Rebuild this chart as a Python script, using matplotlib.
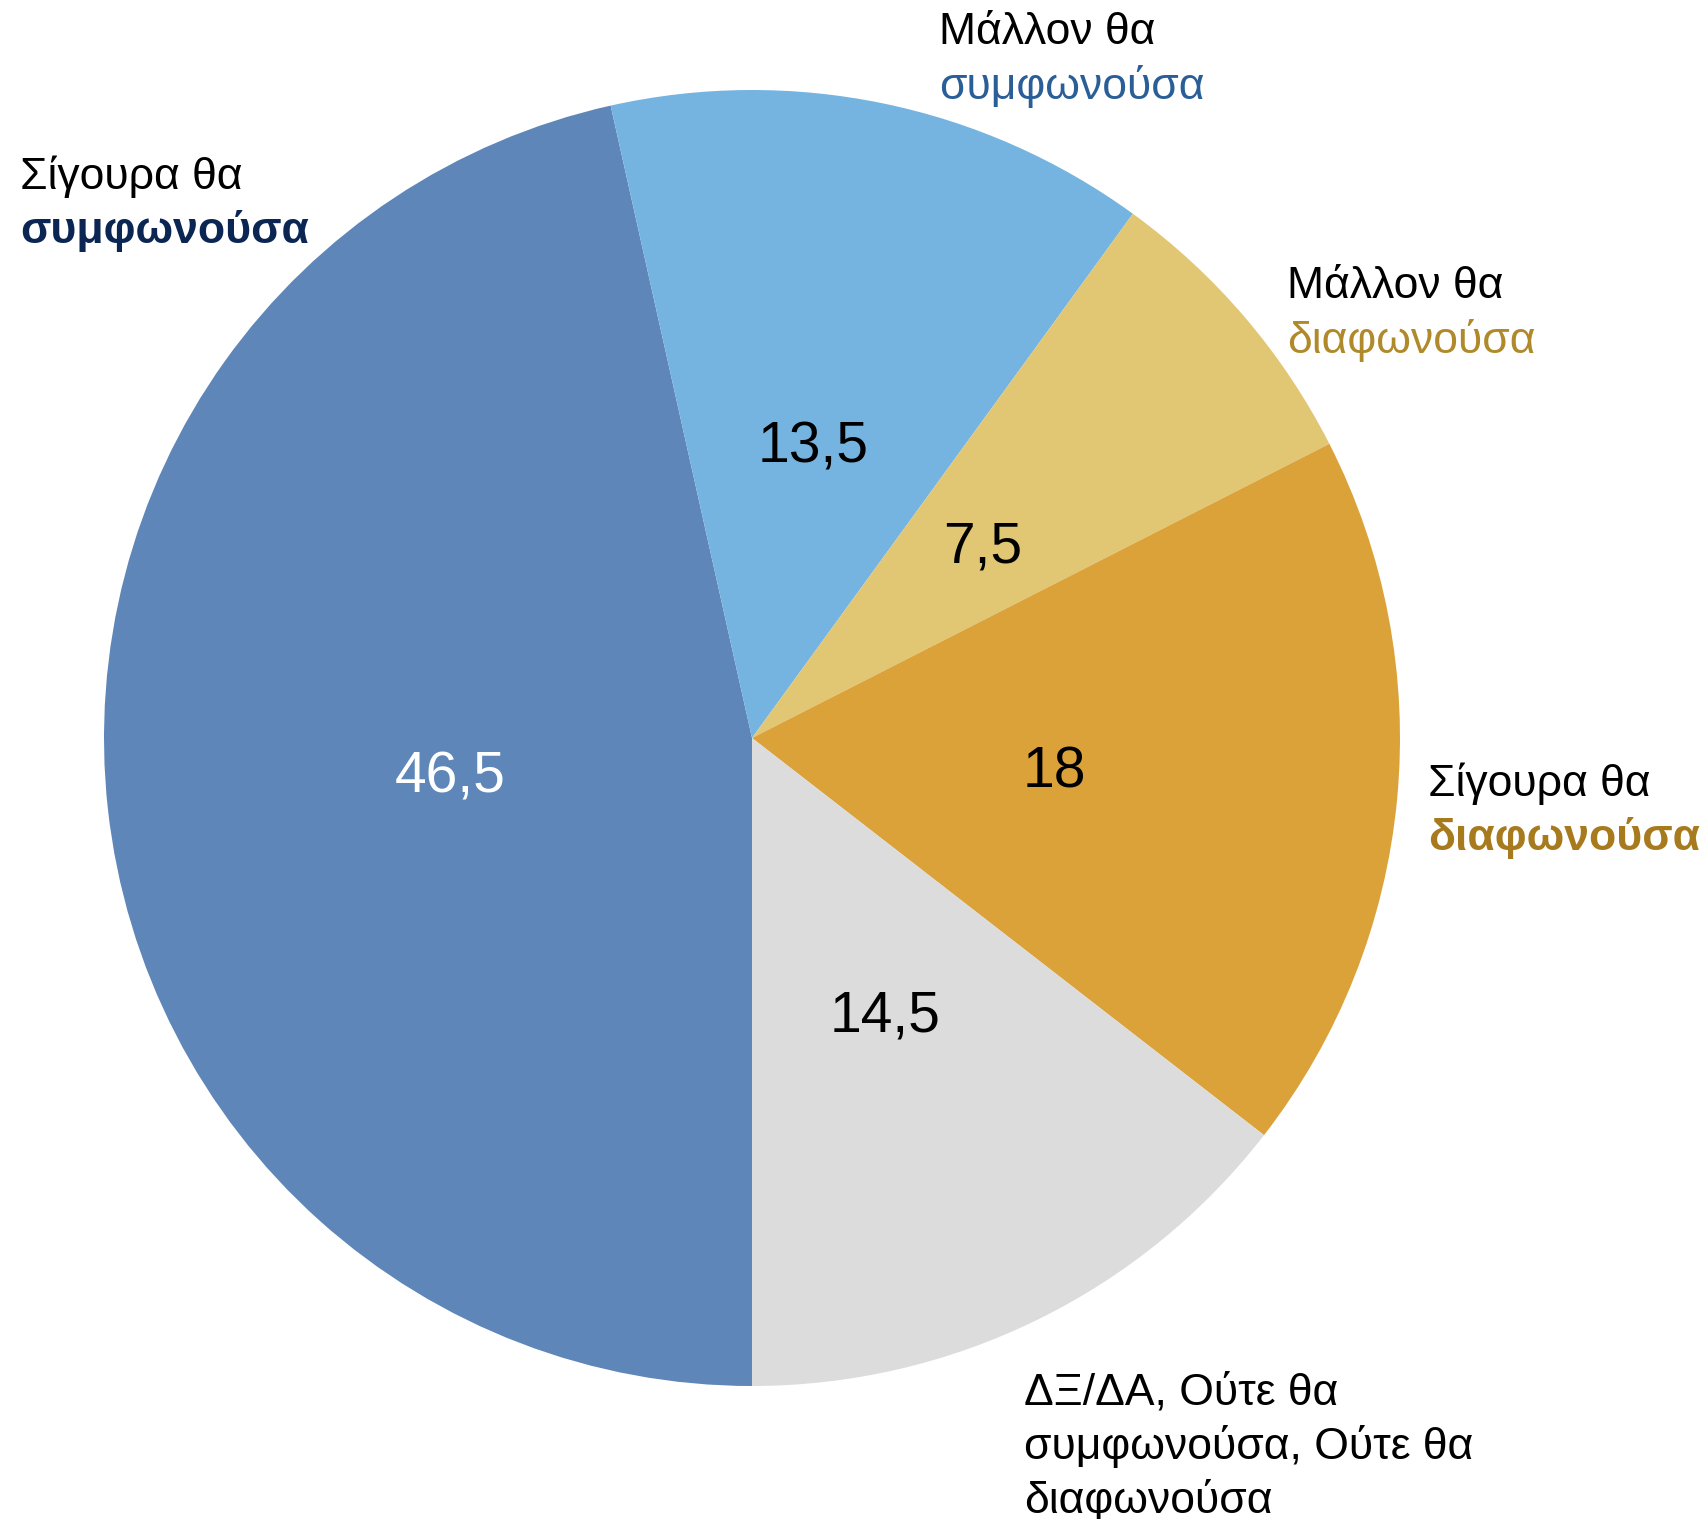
import matplotlib.pyplot as plt

plt.rcParams['font.family'] = ['Liberation Sans', 'DejaVu Sans']

values = [46.5, 13.5, 7.5, 18, 14.5]
colors = ['#5E86B8', '#75B4E1', '#E1C674', '#DCA23A', '#DCDCDC']
value_colors = ['white', 'black', 'black', 'black', 'black']

# category labels: (first line, second line, second line colour, second line weight, x, y of first line)
labels = [
    ('Σίγουρα θα', 'συμφωνούσα', '#0B2653', 'bold', 20, 177),
    ('Μάλλον θα', 'συμφωνούσα', '#2A5E97', 'normal', 939, 33),
    ('Μάλλον θα', 'διαφωνούσα', '#B08A2A', 'normal', 1287, 287),
    ('Σίγουρα θα', 'διαφωνούσα', '#A87A1E', 'bold', 1428, 784),
]
bottom_label = ['ΔΞ/ΔΑ, Ούτε θα', 'συμφωνούσα, Ούτε θα', 'διαφωνούσα']

W, H = 1701, 1519
fig = plt.figure(figsize=(W / 100, H / 100), dpi=100)
ax = fig.add_axes([0, 0, 1, 1])

wedges, texts, autotexts = ax.pie(
    values, colors=colors, startangle=270, counterclock=False,
    center=(752, H - 738), radius=648, frame=True,
    autopct=lambda p: f'{p:g}'.replace('.', ','), pctdistance=0.468,
    wedgeprops=dict(linewidth=0),
    textprops=dict(fontsize=41),
)
for t, c in zip(autotexts, value_colors):
    t.set_color(c)
    x, y = t.get_position()
    t.set_position((x, y - 6))
ax.set_xlim(0, W)
ax.set_ylim(0, H)
ax.set_aspect('equal')
ax.axis('off')

line_h = 54
for first, second, col, weight, x, y in labels:
    ax.text(x, H - y, first, fontsize=32, color='black', va='center', ha='left')
    ax.text(x, H - y - line_h, second, fontsize=32, color=col, fontweight=weight,
            va='center', ha='left')

for i, line in enumerate(bottom_label):
    ax.text(1024, H - 1393 - i * line_h, line, fontsize=32, color='black',
            va='center', ha='left')

fig.savefig('out.png', dpi=100)
